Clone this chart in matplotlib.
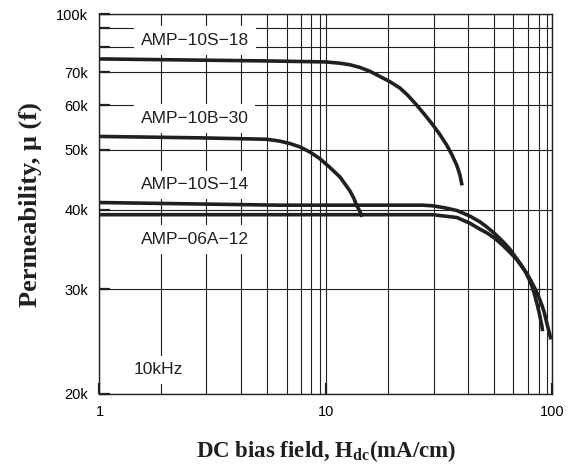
import numpy as np
import matplotlib
matplotlib.use("Agg")
import matplotlib.pyplot as plt

plt.rcParams['font.family'] = ['Liberation Sans', 'DejaVu Sans']
plt.rcParams['mathtext.fontset'] = 'custom'
plt.rcParams['mathtext.rm'] = 'Liberation Serif:bold'
plt.rcParams['mathtext.bf'] = 'Liberation Serif:bold'

# Data (H in mA/cm, permeability)

h_10s18 = [1, 2, 5, 10, 11.7, 13.1, 14.6, 16.4, 18.3, 20.4, 22.3, 23.9, 25.8,
           27.7, 29.7, 31.5, 33.4, 34.9, 36.3, 37.3, 38.0]
mu_10s18 = [75200, 74900, 74400, 74000, 73500, 72900, 71900, 70400, 68700,
            67000, 65000, 62800, 60000, 57700, 55400, 53300, 51000, 49100,
            47300, 45600, 43800]

h_10b30 = [1, 2.84, 5.0, 5.64, 6.22, 6.95, 7.84, 8.96, 10.4, 11.7, 12.35,
           13.1, 13.67, 14.1, 14.6, 15.0]
mu_10b30 = [52800, 52500, 52200, 51800, 51300, 50600, 49600, 48400, 46900,
            45200, 44100, 42900, 41800, 40700, 39850, 39000]

h_10s14 = [1, 5.6, 27.2, 29.7, 32.9, 36.4, 40.6, 44.3, 47.1, 50.5, 54.4, 58.2,
           62.4, 65.7, 68.6, 71.3, 73.5, 75.3, 77.1, 79.0, 80.6, 82.5, 83.8, 84.7]
mu_10s14 = [41100, 40700, 40700, 40600, 40300, 39900, 39100, 38300, 37600,
            36700, 35700, 34700, 33500, 32700, 31900, 31100, 30400, 29700,
            28900, 28000, 27300, 26500, 26000, 25500]

h_06a12 = [1, 29.7, 32.9, 36.4, 40.6, 44.3, 47.1, 50.5, 54.4, 58.2, 62.4, 65.7,
           69.3, 73.0, 76.7, 80.0, 83.8, 87.0, 89.7, 93.0, 95.6, 97.3]
mu_06a12 = [39300, 39300, 39100, 38900, 38100, 37300, 36800, 36100, 35200,
            34300, 33400, 32600, 31800, 30900, 30000, 29100, 28200, 27400,
            26500, 25700, 25100, 24700]

names = ["AMP\u221210S\u221218", "AMP\u221210B\u221230", "AMP\u221210S\u221214", "AMP\u221206A\u221212"]

x_major = [1, 10, 100]
x_major_labels = ["1", "10", "100"]
x_minor = [2, 3, 4, 5, 6, 7, 8, 9, 20, 30, 40, 50, 60, 70, 80, 90]
y_major = [20000, 30000, 40000, 50000, 60000, 70000, 100000]
y_major_labels = ["20k", "30k", "40k", "50k", "60k", "70k", "100k"]
y_minor = [80000, 90000]

# The printed chart is not a true log grid, so map the grid lines
# to where they sit on the original (fraction of axis length)
x_cal_val = [1, 2, 3, 4, 5, 6, 7, 8, 9, 10, 20, 30, 40, 50, 60, 70, 80, 90, 100]
x_cal_pos = [0.0, 0.135, 0.235, 0.312, 0.369, 0.413, 0.444, 0.468, 0.487, 0.500,
             0.636, 0.738, 0.814, 0.870, 0.913, 0.945, 0.970, 0.987, 1.0]
y_cal_val = [20000, 30000, 40000, 50000, 60000, 70000, 80000, 90000, 100000]
y_cal_pos = [0.0, 0.276, 0.485, 0.643, 0.761, 0.847, 0.913, 0.963, 1.0]


def make_scale(vals, pos):
    lv = np.log10(vals)

    def fwd(v):
        v = np.asarray(v, dtype=float)
        return np.interp(np.log10(np.maximum(v, 1e-12)), lv, pos)

    def inv(f):
        return 10 ** np.interp(np.asarray(f, dtype=float), pos, lv)

    return fwd, inv


col = '#231f20'

fig = plt.figure(figsize=(5.78, 4.71), dpi=100)
ax = fig.add_axes([0.1721, 0.1635, 0.7837, 0.8062])

ax.set_xscale('function', functions=make_scale(x_cal_val, x_cal_pos))
ax.set_yscale('function', functions=make_scale(y_cal_val, y_cal_pos))

for h, mu in [(h_10s18, mu_10s18), (h_10b30, mu_10b30),
              (h_10s14, mu_10s14), (h_06a12, mu_06a12)]:
    ax.plot(h, mu, color=col, lw=2.6, solid_capstyle='butt',
            solid_joinstyle='round', zorder=4)

ax.set_xlim(1, 100)
ax.set_ylim(20000, 100000)

ax.set_xticks(x_major, labels=x_major_labels)
ax.set_xticks(x_minor, minor=True)
ax.set_yticks(y_major, labels=y_major_labels)
ax.set_yticks(y_minor, minor=True)

ax.grid(True, which='both', color=col, lw=0.8)
ax.set_axisbelow(True)

ax.tick_params(axis='y', which='both', direction='in', length=8, width=1.6,
               color=col, labelsize=10.5, pad=8)
ax.tick_params(axis='x', which='major', direction='in', length=8, width=1.6,
               color=col, labelsize=10.5, pad=8)
ax.tick_params(axis='x', which='minor', length=0)

for s in ax.spines.values():
    s.set_color(col)
    s.set_linewidth(1.0)

box = dict(facecolor='white', edgecolor='none', pad=5)
label_pos = [(0.21, 0.932), (0.21, 0.7256), (0.21, 0.5504), (0.21, 0.408)]
for name, (px, py) in zip(names, label_pos):
    ax.text(px, py, name, transform=ax.transAxes, ha='center', va='center',
            fontsize=12.5, color=col, bbox=box, zorder=3)
ax.text(0.129, 0.0632, "10kHz", transform=ax.transAxes, ha='center', va='center',
        fontsize=12.5, color=col, bbox=box, zorder=3)

ax.set_xlabel("DC bias field, H$_{\\mathrm{dc}}$(mA/cm)", family='Liberation Serif',
              fontweight='bold', fontsize=16.5, color=col, labelpad=14)
ax.set_ylabel("Permeability, \u03bc (f)", family='Liberation Serif',
              fontweight='bold', fontsize=19, color=col, labelpad=10)

fig.savefig("out.png", dpi=100)
